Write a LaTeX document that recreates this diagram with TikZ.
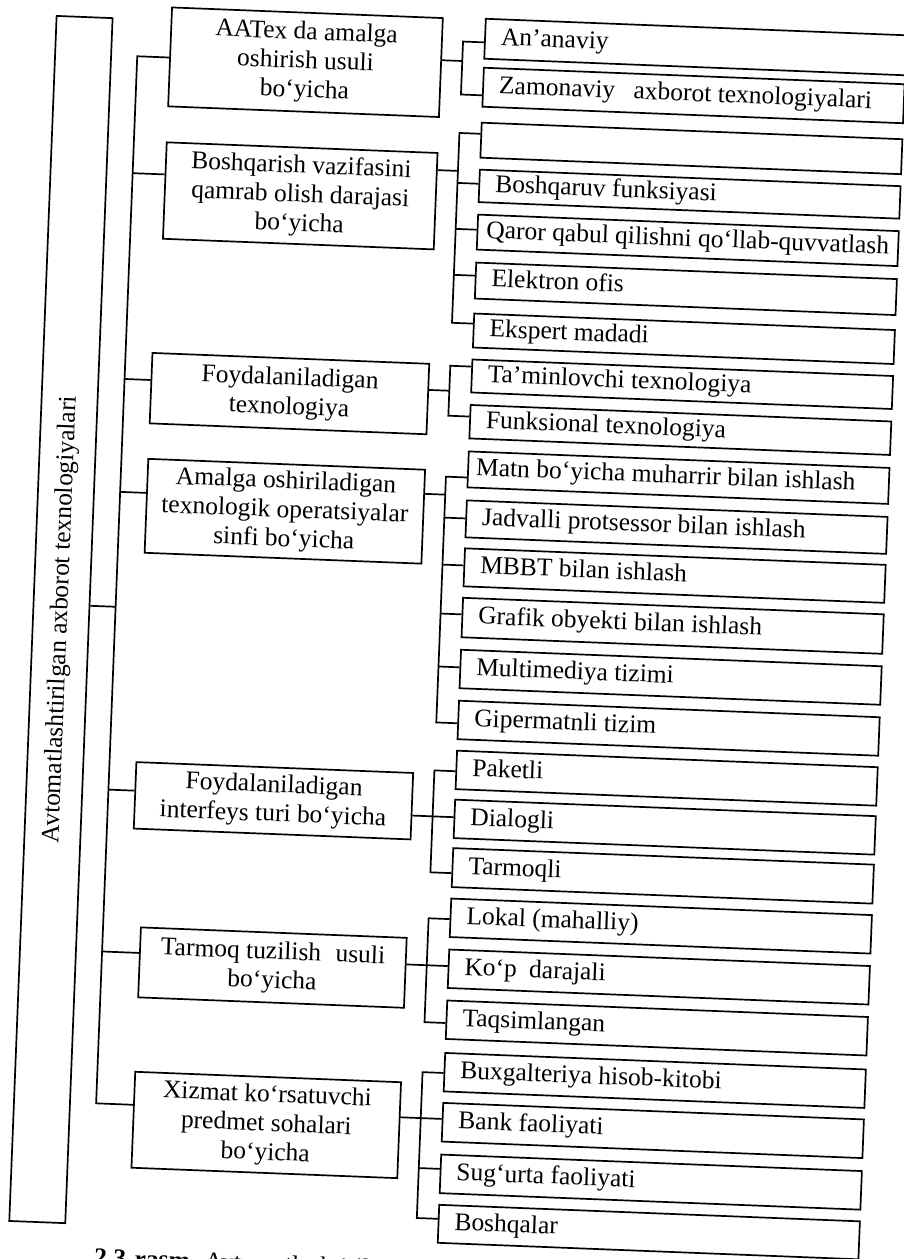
\documentclass[tikz,border=0pt]{standalone}
\usepackage{graphicx}
\usepackage{fontspec}
\setmainfont{Liberation Serif}
\newcommand\myfs{\fontsize{25.5}{29}\selectfont}
\newcommand\lftext[2][16pt]{\makebox[421pt][l]{\hspace{#1}\strut #2}}
\begin{document}
\begin{tikzpicture}[x=1pt,y=-1pt,
  box/.style={draw, line width=1.7pt, inner sep=0pt, anchor=north west, font=\myfs},
  cat/.style={box, align=center},
  leafbox/.style={box, minimum width=421pt},
  conn/.style={line width=1.7pt}]
\useasboundingbox (0,0) rectangle (903,1259);
\fill[white] (0,0) rectangle (903,1259);
\begin{scope}[rotate around={-2.25:(451,629)}, transform shape]
% main box
\node[box, minimum width=56pt, minimum height=1206pt] (lb) at (32,31)
  {\rotatebox{90}{Avtomatlashtirilgan axborot texnologiyalari}};
% categories
\node[cat, minimum width=271pt, minimum height=99pt]   (c1) at (147,18)   {AATex da amalga\\oshirish usuli\\bo‘yicha};
\node[cat, minimum width=271pt, minimum height=96.5pt] (c2) at (147,153)  {Boshqarish vazifasini\\qamrab olish darajasi\\bo‘yicha};
\node[cat, minimum width=277pt, minimum height=70.5pt] (c3) at (141,364)  {Foydalaniladigan\\texnologiya};
\node[cat, minimum width=277pt, minimum height=94pt]   (c4) at (141,470)  {Amalga oshiriladigan\\texnologik operatsiyalar\\sinfi bo‘yicha};
\node[cat, minimum width=277pt, minimum height=66.5pt] (c5) at (141,773.5){Foydalaniladigan\\interfeys turi bo‘yicha};
\node[cat, minimum width=266pt, minimum height=70pt]   (c6) at (152,938.5){Tarmoq tuzilish\hspace{8pt} usuli\\bo‘yicha};
\node[cat, minimum width=266pt, minimum height=96pt]   (c7) at (152,1083) {Xizmat ko‘rsatuvchi\\predmet sohalari\\bo‘yicha};
% leaves
\node[leafbox, minimum height=40pt]   (n11) at (461,17)     {\lftext{An’anaviy}};
\node[leafbox, minimum height=39pt]   (n12) at (461,66)     {\lftext{Zamonaviy\hspace{12pt} axborot texnologiyalari}};
\node[leafbox, minimum height=35pt]   (n21) at (461,121)    {\lftext{}};
\node[leafbox, minimum height=32.5pt] (n22) at (461,168)    {\lftext{Boshqaruv funksiyasi}};
\node[leafbox, minimum height=35pt]   (n23) at (461,213)    {\lftext[9pt]{Qaror qabul qilishni qo‘llab-quvvatlash}};
\node[leafbox, minimum height=36pt]   (n24) at (461,261)    {\lftext{Elektron ofis}};
\node[leafbox, minimum height=34pt]   (n25) at (461,312)    {\lftext{Ekspert madadi}};
\node[leafbox, minimum height=33pt]   (n31) at (461,358)    {\lftext{Ta’minlovchi texnologiya}};
\node[leafbox, minimum height=33.5pt] (n32) at (461,403.5)  {\lftext{Funksional texnologiya}};
\node[leafbox, minimum height=36pt]   (n41) at (461,450)    {\lftext[8pt]{Matn bo‘yicha muharrir bilan ishlash}};
\node[leafbox, minimum height=37pt]   (n42) at (461,499)    {\lftext{Jadvalli protsessor bilan ishlash}};
\node[leafbox, minimum height=38pt]   (n43) at (461,547)    {\lftext{MBBT bilan ishlash}};
\node[leafbox, minimum height=39.5pt] (n44) at (461,596.5)  {\lftext{Grafik obyekti bilan ishlash}};
\node[leafbox, minimum height=38.5pt] (n45) at (461,648.5)  {\lftext{Multimediya tizimi}};
\node[leafbox, minimum height=38.5pt] (n46) at (461,699.5)  {\lftext{Gipermatnli tizim}};
\node[leafbox, minimum height=38.5pt] (n51) at (461,749.5)  {\lftext{Paketli}};
\node[leafbox, minimum height=38.5pt] (n52) at (461,798.5)  {\lftext{Dialogli}};
\node[leafbox, minimum height=39pt]   (n53) at (461,847)    {\lftext{Tarmoqli}};
\node[leafbox, minimum height=38.5pt] (n61) at (461,897.5)  {\lftext{Lokal (mahalliy)}};
\node[leafbox, minimum height=38.5pt] (n62) at (461,948.5)  {\lftext{Ko‘p\hspace{6pt} darajali}};
\node[leafbox, minimum height=38.5pt] (n63) at (461,999.5)  {\lftext{Taqsimlangan}};
\node[leafbox, minimum height=38.5pt] (n71) at (461,1052)   {\lftext{Buxgalteriya hisob-kitobi}};
\node[leafbox, minimum height=38.7pt] (n72) at (461,1102)   {\lftext{Bank faoliyati}};
\node[leafbox, minimum height=38.6pt] (n73) at (461,1153.7) {\lftext{Sug‘urta faoliyati}};
\node[leafbox, minimum height=38pt]   (n74) at (461,1204)   {\lftext{Boshqalar}};
% caption (cut by the page edge)
\node[anchor=base west, inner sep=0pt, font=\myfs] (cap) at (119,1279) {\textbf{2.3-rasm.} Avtomatlashtirilgan};
% trunk coordinates
\coordinate (L) at (115,620);
\coordinate (t1) at (115,69);
\coordinate (t2) at (115,186);
\coordinate (t3) at (115,392);
\coordinate (t4) at (115,505);
\coordinate (t5) at (115,803);
\coordinate (t6) at (115,965);
\coordinate (t7) at (115,1117);
% bracket junctions
\coordinate (p1) at (440,61);
\coordinate (p2) at (440,171);
\coordinate (p3) at (440,391);
\coordinate (p4) at (440,495);
\coordinate (p5) at (440,817);
\coordinate (p6) at (440,966);
\coordinate (p7) at (440,1119);
% ticks
\coordinate (b11) at (440,41.5);
\coordinate (b12) at (440,94.5);
\coordinate (b21) at (440,133);
\coordinate (b22) at (440,183);
\coordinate (b23) at (440,229);
\coordinate (b24) at (440,275);
\coordinate (b25) at (440,323);
\coordinate (b31) at (440,366);
\coordinate (b32) at (440,416);
\coordinate (b41) at (440,477);
\coordinate (b42) at (440,518);
\coordinate (b43) at (440,565);
\coordinate (b44) at (440,614);
\coordinate (b45) at (440,667);
\coordinate (b46) at (440,723);
\coordinate (b51) at (440,771);
\coordinate (b52) at (440,817);
\coordinate (b53) at (440,873);
\coordinate (b61) at (440,919);
\coordinate (b62) at (440,966);
\coordinate (b63) at (440,1023);
\coordinate (b71) at (440,1073);
\coordinate (b72) at (440,1119);
\coordinate (b73) at (440,1169);
\coordinate (b74) at (440,1219);
% trunk
\draw[conn] (c1.west |- t1) -- (t1) -- (t7) -- (c7.west |- t7);
\foreach \i in {2,...,6} \draw[conn] (t\i) -- (c\i.west |- t\i);
\draw[conn] (lb.east |- L) -- (L);
\foreach \i in {1,...,7} \draw[conn] (c\i.east |- p\i) -- (p\i);
% brackets
\draw[conn] (n11.west |- b11) -- (b11) -- (b12) -- (n12.west |- b12);
\draw[conn] (n21.west |- b21) -- (b21) -- (b25) -- (n25.west |- b25);
\foreach \k in {2,3,4} \draw[conn] (b2\k) -- (n2\k.west |- b2\k);
\draw[conn] (n31.west |- b31) -- (b31) -- (b32) -- (n32.west |- b32);
\draw[conn] (n41.west |- b41) -- (b41) -- (b46) -- (n46.west |- b46);
\foreach \k in {2,...,5} \draw[conn] (b4\k) -- (n4\k.west |- b4\k);
\draw[conn] (n51.west |- b51) -- (b51) -- (b53) -- (n53.west |- b53);
\draw[conn] (b52) -- (n52.west |- b52);
\draw[conn] (n61.west |- b61) -- (b61) -- (b63) -- (n63.west |- b63);
\draw[conn] (b62) -- (n62.west |- b62);
\draw[conn] (n71.west |- b71) -- (b71) -- (b74) -- (n74.west |- b74);
\foreach \k in {2,3} \draw[conn] (b7\k) -- (n7\k.west |- b7\k);
\end{scope}
\end{tikzpicture}
\end{document}
